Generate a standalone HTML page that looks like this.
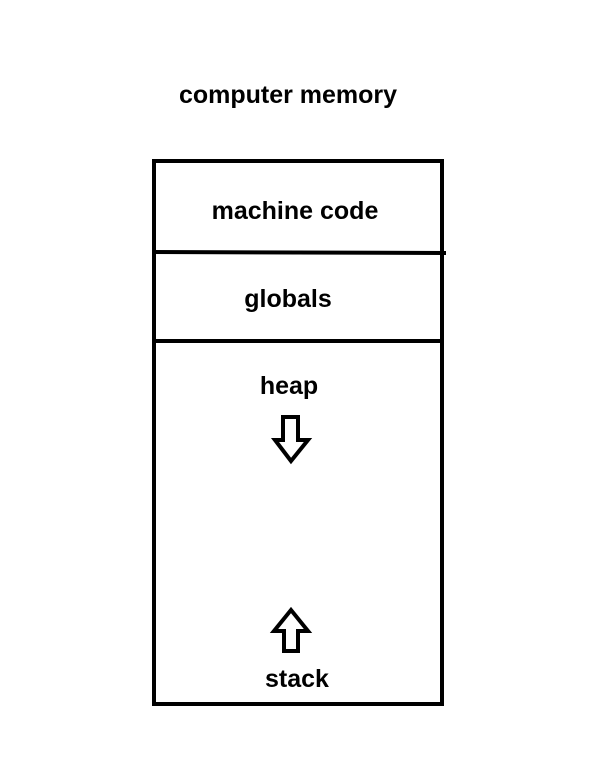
<!DOCTYPE html>
<html><head><style>
body{margin:0;background:#fff;width:601px;height:760px;overflow:hidden}
svg text{font-family:"Liberation Sans","Noto Sans CJK KR",sans-serif;font-weight:bold;font-size:25px;fill:#000;text-anchor:middle}
</style></head><body>
<svg width="601" height="760" xmlns="http://www.w3.org/2000/svg">
<text x="288" y="103">computer memory</text>
<rect x="154" y="161" width="288" height="543" fill="none" stroke="#000" stroke-width="4"/>
<line x1="152" y1="252" x2="446" y2="253" stroke="#000" stroke-width="4"/>
<line x1="152" y1="341" x2="442" y2="341" stroke="#000" stroke-width="4"/>
<text x="295" y="219">machine code</text>
<text x="288" y="307">globals</text>
<text x="289" y="394">heap</text>
<text x="297" y="687">stack</text>
<polygon points="283,417 298,417 298,440 308,440 291,461 275,440 283,440" fill="none" stroke="#000" stroke-width="4" stroke-linejoin="miter"/>
<polygon points="284,651 298,651 298,631 308,631 291,610 274,631 284,631" fill="none" stroke="#000" stroke-width="4" stroke-linejoin="miter"/>
</svg>
</body></html>
